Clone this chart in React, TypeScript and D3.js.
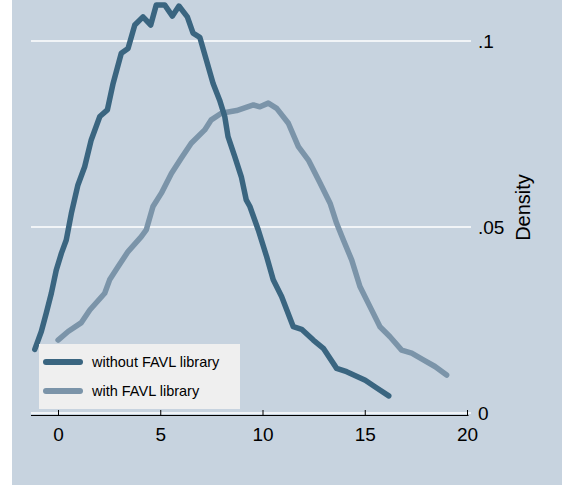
import React from 'react';
import * as d3 from 'd3';

// kernel density, without FAVL library
const withoutX = [-1.16, -0.84, -0.6, -0.35, -0.11, 0.14, 0.38, 0.63, 0.95, 1.28, 1.6, 2.02, 2.39, 2.67, 3.07, 3.4, 3.73, 4.13, 4.51, 4.78, 5.19, 5.57, 5.89, 6.3, 6.58, 6.91, 7.23, 7.56, 7.88, 8.13, 8.29, 8.62, 8.94, 9.18, 9.36, 9.77, 10.18, 10.5, 10.91, 11.48, 11.89, 12.46, 12.95, 13.6, 14.09, 15.0, 15.49, 16.15];
const withoutY = [0.0171, 0.0219, 0.0268, 0.0322, 0.0384, 0.0429, 0.0465, 0.0537, 0.0613, 0.0662, 0.0734, 0.0797, 0.0815, 0.0886, 0.0967, 0.098, 0.1043, 0.1065, 0.1043, 0.1097, 0.1097, 0.1067, 0.1094, 0.1065, 0.1021, 0.101, 0.0949, 0.0886, 0.0841, 0.0797, 0.0743, 0.0689, 0.0635, 0.0573, 0.0555, 0.0492, 0.042, 0.0358, 0.0313, 0.0232, 0.0225, 0.0196, 0.0174, 0.012, 0.0111, 0.0088, 0.007, 0.0046];

// kernel density, with FAVL library
const withX = [-0.02, 0.47, 1.12, 1.53, 2.26, 2.5, 2.91, 3.4, 4.05, 4.29, 4.62, 5.03, 5.52, 6.0, 6.49, 7.15, 7.47, 7.96, 8.71, 9.53, 9.85, 10.26, 10.67, 11.24, 11.73, 12.22, 12.79, 13.28, 13.6, 13.93, 14.34, 14.74, 15.23, 15.72, 16.21, 16.78, 17.27, 17.84, 18.41, 18.98];
const withY = [0.0196, 0.0219, 0.0243, 0.0277, 0.0322, 0.0358, 0.0393, 0.0434, 0.0474, 0.0492, 0.0555, 0.0591, 0.0644, 0.0685, 0.0725, 0.0761, 0.0788, 0.0806, 0.0813, 0.0828, 0.0823, 0.0833, 0.0819, 0.0779, 0.0716, 0.068, 0.0618, 0.0564, 0.051, 0.0465, 0.0411, 0.034, 0.0286, 0.0232, 0.0205, 0.0169, 0.0161, 0.0143, 0.0125, 0.0102];

const xTicks = [0, 5, 10, 15, 20];
const yTicks = [0, 0.05, 0.1];
const yTickLabels = ['0', '.05', '.1'];
const seriesNames = ['without FAVL library', 'with FAVL library'];

const BG = '#c7d3df';
const DARK = '#3a6580';
const LIGHT = '#7b94a9';
const FONT = 'Arial, "Liberation Sans", sans-serif';

export default function App() {
  const width = 565;
  const height = 485;

  const x = d3.scaleLinear().domain([0, 20]).range([58.5, 467.5]);
  const y = d3.scaleLinear().domain([0, 0.1]).range([413, 41]);
  const plotLeft = 31;
  const plotRight = 471;

  const makePath = (xs: number[], ys: number[]) =>
    d3
      .line<number>()
      .x((v) => x(v))
      .y((_, i) => y(ys[i]))(xs) || '';

  const axisY = y(0) + 2.5;

  return (
    <svg
      width={width}
      height={height}
      style={{ position: 'absolute', left: 0, top: 0, background: '#fff' }}
      fontFamily={FONT}
    >
      <rect x={12} y={0} width={550} height={height} fill={BG} />

      {/* gridlines */}
      {yTicks.map((t) => (
        <line key={t} x1={plotLeft} x2={plotRight} y1={y(t)} y2={y(t)} stroke="#fff" strokeWidth={1.6} />
      ))}

      {/* curves */}
      <path d={makePath(withX, withY)} fill="none" stroke={LIGHT} strokeWidth={5.5} strokeLinejoin="round" strokeLinecap="round" />
      <path d={makePath(withoutX, withoutY)} fill="none" stroke={DARK} strokeWidth={5.5} strokeLinejoin="round" strokeLinecap="round" />

      {/* x axis */}
      <line x1={plotLeft} x2={x(20) + 1} y1={axisY} y2={axisY} stroke="#000" strokeWidth={1.2} />
      {xTicks.map((t) => (
        <g key={t}>
          <line x1={x(t)} x2={x(t)} y1={axisY} y2={axisY - 5.5} stroke="#000" strokeWidth={1} />
          <text x={x(t)} y={440.5} textAnchor="middle" fontSize={19} fill="#000">
            {t}
          </text>
        </g>
      ))}

      {/* y axis labels on the right */}
      {yTicks.map((t, i) => (
        <text key={t} x={478} y={y(t)} dy="0.36em" fontSize={19} fill="#000">
          {yTickLabels[i]}
        </text>
      ))}
      <text transform="translate(530,207.5) rotate(-90)" textAnchor="middle" fontSize={20} fill="#000">
        Density
      </text>

      {/* legend */}
      <rect x={39} y={344} width={201} height={65} fill="#efefef" />
      {seriesNames.map((name, i) => {
        const ly = 362 + i * 29;
        return (
          <g key={name}>
            <line x1={46} x2={80} y1={ly} y2={ly} stroke={i === 0 ? DARK : LIGHT} strokeWidth={6} strokeLinecap="round" />
            <text x={92} y={ly} dy="0.36em" fontSize={14.5} fill="#000">
              {name}
            </text>
          </g>
        );
      })}
    </svg>
  );
}
